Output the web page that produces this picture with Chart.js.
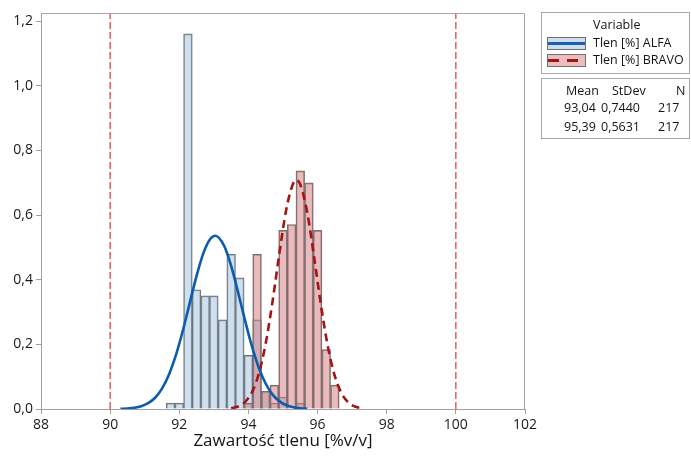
<!DOCTYPE html>
<html>
<head>
<meta charset="utf-8">
<script src="https://cdn.jsdelivr.net/npm/chart.js@4"></script>
<style>
body { margin: 0; background: #fff; }
#wrap { position: relative; width: 691px; height: 457px; overflow: hidden; font-family: "Open Sans", sans-serif; color: #141414; }
.box { position: absolute; border: 1px solid #a8a8a8; background: #fff; }
.t { position: absolute; font-size: 12.5px; line-height: 14px; white-space: nowrap; font-weight: 500; }
.sw { position: absolute; width: 37px; height: 11px; border: 1px solid #707070; }
.sw i { position: absolute; left: 0; right: 0; top: 4px; height: 3px; }
</style>
</head>
<body>
<div id="wrap">
  <canvas id="c" width="691" height="457"></canvas>

  <div class="box" style="left:541px; top:12px; width:147px; height:60px;"></div>
  <div class="t" style="left:593px; top:18px;">Variable</div>
  <div class="sw" style="left:547px; top:37px; background:#cfdeef;"><i style="background:#1a5fb0;"></i></div>
  <div class="t" style="left:593px; top:36px;">Tlen [%] ALFA</div>
  <div class="sw" style="left:547px; top:54px; background:#ebbdbe;"><i style="background:repeating-linear-gradient(90deg,#a31515 0 11px,transparent 11px 19px);"></i></div>
  <div class="t" style="left:593px; top:53px;">Tlen [%] BRAVO</div>

  <div class="box" style="left:541px; top:78px; width:147px; height:59px;"></div>
  <div class="t" style="left:566px; top:84px;">Mean</div>
  <div class="t" style="left:612px; top:84px;">StDev</div>
  <div class="t" style="left:676px; top:84px;">N</div>
  <div class="t" style="left:564px; top:101px;">93,04</div>
  <div class="t" style="left:601px; top:101px;">0,7440</div>
  <div class="t" style="left:658px; top:101px;">217</div>
  <div class="t" style="left:564px; top:120px;">95,39</div>
  <div class="t" style="left:601px; top:120px;">0,5631</div>
  <div class="t" style="left:658px; top:120px;">217</div>
</div>
<script>
// histogram bins (bin centres) and densities
const alfaBins    = [91.75, 92.0, 92.25, 92.5, 92.75, 93.0, 93.25, 93.5, 93.75, 94.0, 94.25, 94.5, 94.75, 95.0, 95.5]
const alfaDensity = [0.018, 0.018, 1.161, 0.369, 0.350, 0.350, 0.276, 0.479, 0.406, 0.166, 0.276, 0.055, 0.018, 0.037, 0.018]
const bravoBins    = [94.0, 94.25, 94.5, 94.75, 95.0, 95.25, 95.5, 95.75, 96.0, 96.25, 96.5]
const bravoDensity = [0.018, 0.479, 0.055, 0.074, 0.553, 0.571, 0.737, 0.700, 0.553, 0.184, 0.074]

// fitted normal curves, sampled points
const alfaCurveX = [90.3, 90.5, 90.7, 90.9, 91.1, 91.3, 91.5, 91.7, 91.9, 92.1, 92.3, 92.5, 92.7, 92.9, 93.04, 93.3, 93.5, 93.7, 93.9, 94.1, 94.3, 94.5, 94.7, 94.9, 95.1, 95.3, 95.5, 95.7]
const alfaCurveY = [0.0006, 0.0016, 0.0038, 0.0086, 0.0179, 0.0348, 0.0630, 0.1059, 0.1658, 0.2414, 0.3270, 0.4120, 0.4831, 0.5268, 0.5362, 0.5044, 0.4429, 0.3618, 0.2749, 0.1943, 0.1278, 0.0782, 0.0445, 0.0236, 0.0116, 0.0053, 0.0023, 0.0009]
const bravoCurveX = [93.5, 93.7, 93.9, 94.1, 94.3, 94.5, 94.7, 94.9, 95.1, 95.3, 95.39, 95.5, 95.7, 95.9, 96.1, 96.3, 96.5, 96.7, 96.9, 97.1, 97.3]
const bravoCurveY = [0.0025, 0.0078, 0.0214, 0.0514, 0.1088, 0.2032, 0.3344, 0.4852, 0.6205, 0.6995, 0.7085, 0.6951, 0.6089, 0.4702, 0.3200, 0.1920, 0.1015, 0.0473, 0.0194, 0.0070, 0.0022]

// specification limits
const specLimits = [90, 100]
const yMax = 1.2256

Chart.defaults.font.family = '"Open Sans", sans-serif'
Chart.defaults.color = '#1a1a1a'

const toPoints = (xs, ys) => xs.map((x, i) => ({ x: x, y: ys[i] }))

const limitSets = specLimits.map(v => ({
	type: 'line',
	data: [{ x: v, y: 0 }, { x: v, y: yMax }],
	borderColor: '#e0353b',
	borderWidth: 1.2,
	borderDash: [7, 3],
	pointRadius: 0,
	order: 0
}))

const frame = {
	id: 'frame',
	afterDraw(chart) {
		const a = chart.chartArea
		const ctx = chart.ctx
		ctx.save()
		ctx.strokeStyle = '#a8a8a8'
		ctx.lineWidth = 1
		ctx.beginPath()
		ctx.moveTo(a.left, Math.round(a.top) + 0.5)
		ctx.lineTo(Math.round(a.right) - 0.5, Math.round(a.top) + 0.5)
		ctx.lineTo(Math.round(a.right) - 0.5, a.bottom)
		ctx.stroke()
		ctx.restore()
	}
}

const chart = new Chart(document.getElementById('c'), {
	type: 'bar',
	data: {
		datasets: [
			...limitSets,
			{
				type: 'line',
				label: 'ALFA fit',
				data: toPoints(alfaCurveX, alfaCurveY),
				borderColor: '#0b5cad',
				borderWidth: 2.6,
				pointRadius: 0,
				cubicInterpolationMode: 'monotone',
				order: 1
			},
			{
				type: 'line',
				label: 'BRAVO fit',
				data: toPoints(bravoCurveX, bravoCurveY),
				borderColor: '#a31515',
				borderWidth: 2.6,
				borderDash: [8, 5],
				pointRadius: 0,
				cubicInterpolationMode: 'monotone',
				order: 1
			},
			{
				label: 'Tlen [%] ALFA',
				data: toPoints(alfaBins, alfaDensity),
				backgroundColor: 'rgba(166,196,228,0.55)',
				borderColor: '#707070',
				borderWidth: 1,
				grouped: false,
				barPercentage: 1,
				categoryPercentage: 1,
				order: 3
			},
			{
				label: 'Tlen [%] BRAVO',
				data: toPoints(bravoBins, bravoDensity),
				backgroundColor: 'rgba(214,120,122,0.5)',
				borderColor: '#707070',
				borderWidth: 1,
				grouped: false,
				barPercentage: 1,
				categoryPercentage: 1,
				order: 2
			}
		]
	},
	options: {
		responsive: false,
		animation: false,
		layout: { padding: { top: 13, right: 166, left: 0, bottom: 0 } },
		plugins: { legend: { display: false }, tooltip: { enabled: false } },
		scales: {
			x: {
				type: 'linear',
				min: 88,
				max: 102,
				offset: false,
				ticks: { stepSize: 2, padding: 3, font: { size: 14 }, maxRotation: 0 },
				grid: { drawOnChartArea: false, offset: false, tickLength: 5, color: '#a0a0a0' },
				border: { color: '#a0a0a0' },
				title: { display: true, text: 'Zawartość tlenu [%v/v]', font: { size: 17 }, color: '#141414', padding: { top: 0, bottom: 6 } },
				afterFit(s) { s.height = 48 }
			},
			y: {
				min: 0,
				max: yMax,
				ticks: {
					stepSize: 0.2,
					includeBounds: false,
					padding: 3,
					font: { size: 14 },
					callback: v => v.toFixed(1).replace('.', ',')
				},
				grid: { drawOnChartArea: false, tickLength: 5, color: '#a0a0a0' },
				border: { color: '#a0a0a0' },
				afterFit(s) { s.width = 41 }
			}
		}
	},
	plugins: [frame]
})
</script>
</body>
</html>
